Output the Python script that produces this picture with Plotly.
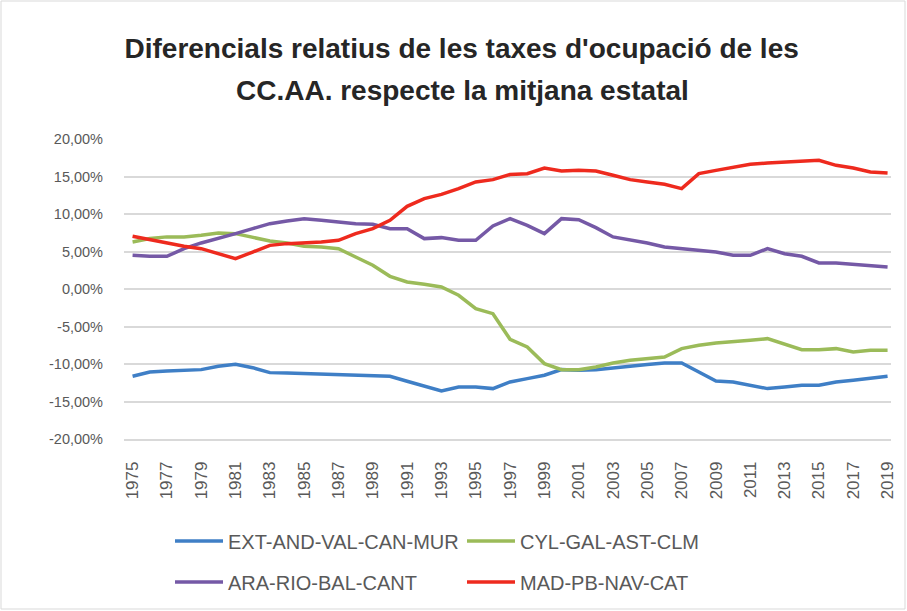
import plotly.graph_objects as go

years = list(range(1975, 2020))

ext_and_val_can_mur = [-11.64, -11.07, -10.93, -10.84, -10.75, -10.31, -10.04, -10.49, -11.15, -11.20,
                       -11.28, -11.28, -11.37, -11.50, -11.55, -11.64, -12.30, -12.93, -13.60, -13.07,
                       -13.07, -13.28, -12.39, -11.95, -11.50, -10.75, -10.84, -10.75, -10.49, -10.26,
                       -10.08, -9.86, -9.86, -11.07, -12.26, -12.39, -12.83, -13.28, -13.06, -12.83,
                       -12.83, -12.39, -12.17, -11.86, -11.64]
cyl_gal_ast_clm = [6.27, 6.72, 6.95, 6.95, 7.17, 7.47, 7.38, 6.85, 6.40, 6.14,
                   5.69, 5.60, 5.38, 4.27, 3.16, 1.69, 0.93, 0.63, 0.27, -0.84,
                   -2.62, -3.29, -6.70, -7.73, -9.95, -10.75, -10.75, -10.40, -9.86, -9.50,
                   -9.28, -9.06, -7.95, -7.51, -7.20, -7.06, -6.84, -6.62, -7.38, -8.09,
                   -8.09, -7.95, -8.40, -8.18, -8.18]
ara_rio_bal_cant = [4.49, 4.36, 4.36, 5.38, 6.14, 6.72, 7.38, 8.05, 8.71, 9.07,
                    9.38, 9.16, 8.94, 8.71, 8.62, 8.05, 8.05, 6.72, 6.85, 6.49,
                    6.49, 8.40, 9.38, 8.49, 7.38, 9.38, 9.25, 8.18, 6.94, 6.58,
                    6.14, 5.60, 5.38, 5.16, 4.94, 4.49, 4.49, 5.38, 4.71, 4.36,
                    3.47, 3.47, 3.29, 3.02, 2.93]
mad_pb_nav_cat = [7.03, 6.58, 6.14, 5.69, 5.38, 4.71, 4.04, 4.93, 5.82, 6.05,
                  6.14, 6.27, 6.49, 7.38, 8.05, 9.16, 11.02, 12.05, 12.62, 13.38,
                  14.27, 14.58, 15.27, 15.38, 16.13, 15.73, 15.82, 15.73, 15.16, 14.58,
                  14.27, 13.96, 13.38, 15.38, 15.82, 16.27, 16.62, 16.80, 16.93, 17.07,
                  17.16, 16.49, 16.13, 15.60, 15.47]

series_names = ["EXT-AND-VAL-CAN-MUR", "CYL-GAL-AST-CLM", "ARA-RIO-BAL-CANT", "MAD-PB-NAV-CAT"]
series_colors = ["#3F7FC6", "#9BBB59", "#7559A6", "#EE2A1E"]
series_legends = ["legend", "legend2", "legend3", "legend4"]

y_tick_vals = [20, 15, 10, 5, 0, -5, -10, -15, -20]
y_tick_text = ["20,00%", "15,00%", "10,00%", "5,00%", "0,00%", "-5,00%", "-10,00%", "-15,00%", "-20,00%"]
x_tick_vals = list(range(1975, 2020, 2))

title_line1 = "<b>Diferencials relatius de les taxes d'ocupació de les</b>"
title_line2 = "<b>CC.AA. respecte la mitjana estatal</b>"

fig = go.Figure()
for name, vals, col, lg in zip(series_names,
                               [ext_and_val_can_mur, cyl_gal_ast_clm, ara_rio_bal_cant, mad_pb_nav_cat],
                               series_colors, series_legends):
    fig.add_trace(go.Scatter(x=years, y=vals, mode="lines", name=name,
                             line=dict(color=col, width=3.5), legend=lg))

font_family = "Liberation Sans, Arial, sans-serif"
title_font = dict(family=font_family, size=28, color="#262626")
legend_common = dict(orientation="h", xanchor="left", yanchor="middle",
                     xref="container", yref="container",
                     font=dict(family=font_family, size=20, color="#595959"),
                     itemwidth=48, bgcolor="rgba(0,0,0,0)", itemclick=False)

fig.update_layout(
    width=907, height=611,
    margin=dict(l=124, r=16, t=139, b=172, autoexpand=False),
    paper_bgcolor="white", plot_bgcolor="white",
    title=dict(text=title_line1, x=0.509, xanchor="center", xref="container",
               y=1 - 48 / 611, yanchor="middle", yref="container", font=title_font),
    annotations=[dict(text=title_line2, x=0.441, xref="paper", y=349 / 300, yref="paper",
                      xanchor="center", yanchor="middle", showarrow=False, font=title_font)],
    showlegend=True,
    legend=dict(x=170 / 907, y=1 - 541 / 611, **legend_common),
    legend2=dict(x=462 / 907, y=1 - 541 / 611, **legend_common),
    legend3=dict(x=170 / 907, y=1 - 582 / 611, **legend_common),
    legend4=dict(x=462 / 907, y=1 - 582 / 611, **legend_common),
    xaxis=dict(range=[1974.5, 2019.2], tickvals=x_tick_vals, tickangle=-90,
               showgrid=False, zeroline=False, showline=True, linecolor="#D9D9D9", linewidth=1.5,
               ticks="", ticklabelstandoff=14,
               tickfont=dict(family=font_family, size=17, color="#595959")),
    yaxis=dict(range=[-20, 20], tickvals=y_tick_vals, ticktext=y_tick_text,
               showgrid=True, gridcolor="#D9D9D9", gridwidth=1.5, zeroline=False,
               showline=False, ticks="", ticklabelstandoff=20,
               tickfont=dict(family=font_family, size=14.5, color="#595959")),
    shapes=[dict(type="rect", xref="paper", yref="paper",
                 x0=-123 / 767, x1=1 + 14 / 767, y0=-170 / 300, y1=1 + 138 / 300,
                 line=dict(color="#D9D9D9", width=1), fillcolor="rgba(0,0,0,0)")],
)

fig.write_html("out.html", config={"displayModeBar": False},
               post_script="document.body.style.margin='0px';")
